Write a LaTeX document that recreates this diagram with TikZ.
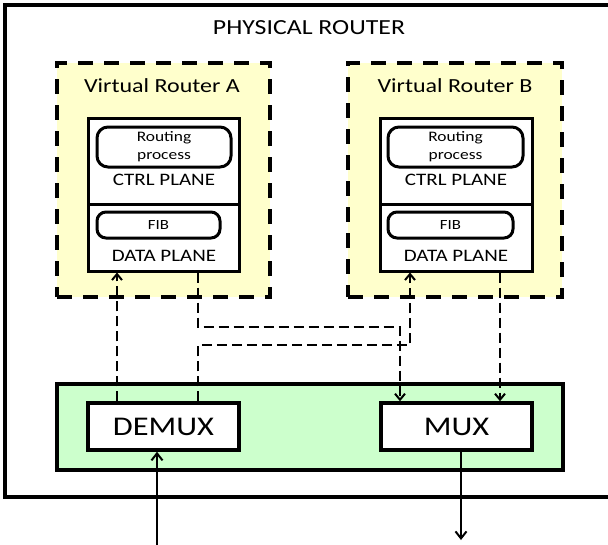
\documentclass[tikz,border=0pt]{standalone}
\usepackage{fontspec}
\setmainfont{Carlito}[FakeStretch=1.2]
\usetikzlibrary{arrows.meta}
\definecolor{vrfill}{RGB}{255,255,204}
\definecolor{grfill}{RGB}{204,255,204}
\tikzset{
  fs/.style={font=\fontsize{#1}{#1}\selectfont},
  outerbox/.style={draw, line width=3.5pt, inner sep=0pt},
  vrbox/.style={draw, line width=4pt, fill=vrfill, dash pattern=on 15pt off 11pt, inner sep=0pt},
  planebox/.style={draw, line width=3pt, fill=white, inner sep=0pt},
  procbox/.style={draw, line width=3pt, fill=white, rounded corners=11pt, inner sep=0pt},
  muxbox/.style={draw, line width=3.5pt, fill=white, inner sep=0pt, fs=27},
  greenbox/.style={draw, line width=3.5pt, fill=grfill, inner sep=0pt},
  lbl/.style={inner sep=0pt, anchor=center},
  conn/.style={line width=2pt, dash pattern=on 10pt off 5pt},
  tip/.style={-{Straight Barb[length=6pt,width=10pt]}},
  solid arrow/.style={line width=2pt, -{Straight Barb[length=7pt,width=11pt]}}
}
\begin{document}
\begin{tikzpicture}[x=1pt,y=-1pt]
\useasboundingbox (0,0) rectangle (608,544);
\clip (0,0) rectangle (608,544);
% outer physical router
\node[outerbox, minimum width=610pt, minimum height=492pt] (router) at (310,251) {};
\node[lbl, fs=21.5] (title) at (309,28) {PHYSICAL ROUTER};
% virtual routers
\node[vrbox, minimum width=213pt, minimum height=234pt] (vrA) at (163.5,180) {};
\node[vrbox, minimum width=214pt, minimum height=234pt] (vrB) at (455,180) {};
\node[lbl, fs=20] (vrAt) at (162,86) {Virtual Router A};
\node[lbl, fs=20] (vrBt) at (455,86) {Virtual Router B};
% planes A
\node[planebox, minimum width=151pt, minimum height=86pt] (cpA) at (163.5,161) {};
\node[planebox, minimum width=151pt, minimum height=67pt] (dpA) at (163.5,237.5) {};
\node[procbox, minimum width=134pt, minimum height=40pt] (rpA) at (164,147) {};
\node[lbl, fs=14.5] (rpAt1) at (164,137.5) {Routing};
\node[lbl, fs=14.5] (rpAt2) at (164,157) {process};
\node[lbl, fs=17.5] (cpAt) at (164,180) {CTRL PLANE};
\node[procbox, rounded corners=9pt, minimum width=123pt, minimum height=26pt] (fibA) at (158.5,225) {};
\node[lbl, fs=14] (fibAt) at (158.5,225) {FIB};
\node[lbl, fs=17.5] (dpAt) at (164,255.5) {DATA PLANE};
% planes B
\node[planebox, minimum width=152pt, minimum height=86pt] (cpB) at (456,161) {};
\node[planebox, minimum width=152pt, minimum height=67pt] (dpB) at (456,237.5) {};
\node[procbox, minimum width=135pt, minimum height=40pt] (rpB) at (455.5,147) {};
\node[lbl, fs=14.5] (rpBt1) at (455.5,137.5) {Routing};
\node[lbl, fs=14.5] (rpBt2) at (455.5,157) {process};
\node[lbl, fs=17.5] (cpBt) at (456,180) {CTRL PLANE};
\node[procbox, rounded corners=9pt, minimum width=125pt, minimum height=26pt] (fibB) at (450.5,225) {};
\node[lbl, fs=14] (fibBt) at (450.5,225) {FIB};
\node[lbl, fs=17.5] (dpBt) at (456,255.5) {DATA PLANE};
% mux area
\node[greenbox, minimum width=506pt, minimum height=86pt] (mx) at (310,427) {};
\node[muxbox, minimum width=151pt, minimum height=47pt] (demux) at (163.5,426.5) {DEMUX};
\node[muxbox, minimum width=151pt, minimum height=47pt] (mux) at (456.5,426.5) {MUX};
% x positions of connectors
\coordinate (x1) at (117,0);
\coordinate (x2) at (198,0);
\coordinate (x3) at (400,0);
\coordinate (x4) at (410,0);
\coordinate (x5) at (500,0);
\coordinate (yh1) at (0,327);
\coordinate (yh2) at (0,345);
\coordinate (inA) at (157,548);
\coordinate (outM) at (461,540);
% dashed connectors
\draw[conn,tip] (demux.north -| x1) -- (dpA.south -| x1);
\draw[conn,tip] (demux.north -| x2) -- (x2 |- yh2) -- (x4 |- yh2) -- (dpB.south -| x4);
\draw[conn,tip] (dpA.south -| x2) -- (x2 |- yh1) -- (x3 |- yh1) -- (mux.north -| x3);
\draw[conn,tip] (dpB.south -| x5) -- (mux.north -| x5);
% solid in/out
\draw[solid arrow] (inA) -- (demux.south -| inA);
\draw[solid arrow] (mux.south -| outM) -- (outM);
\end{tikzpicture}
\end{document}
